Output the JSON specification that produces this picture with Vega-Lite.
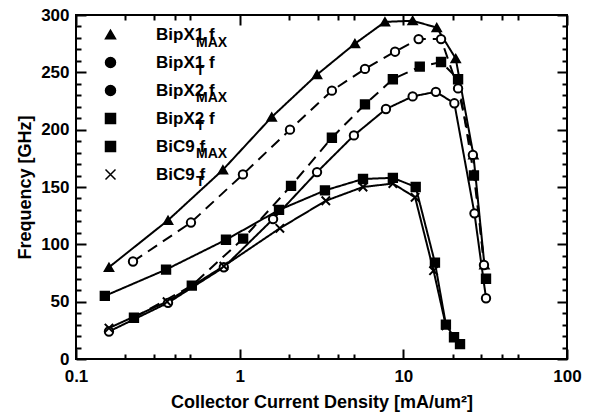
{
  "$schema": "https://vega.github.io/schema/vega-lite/v6.json",
  "width": 491,
  "height": 344,
  "autosize": "none",
  "padding": {"left": 76, "top": 15, "right": 27, "bottom": 58},
  "background": "white",
  "config": {
    "view": {"stroke": "black", "strokeWidth": 2},
    "font": "Liberation Sans",
    "axis": {
      "grid": false, "domain": false,
      "labelFont": "Liberation Sans", "labelFontSize": 17, "labelFontWeight": "bold", "labelColor": "black",
      "titleFont": "Liberation Sans", "titleFontSize": 18, "titleFontWeight": "bold", "titleColor": "black",
      "tickColor": "black", "tickWidth": 2, "labelFlush": false, "labelOverlap": false
    }
  },
  "data": {"values": [
    {"series": "BipX1 fMAX", "j": 0.159, "f": 80},
    {"series": "BipX1 fMAX", "j": 0.365, "f": 121},
    {"series": "BipX1 fMAX", "j": 0.79, "f": 165},
    {"series": "BipX1 fMAX", "j": 1.57, "f": 211},
    {"series": "BipX1 fMAX", "j": 2.97, "f": 248},
    {"series": "BipX1 fMAX", "j": 5.06, "f": 275},
    {"series": "BipX1 fMAX", "j": 7.72, "f": 294},
    {"series": "BipX1 fMAX", "j": 11.4, "f": 295},
    {"series": "BipX1 fMAX", "j": 16.0, "f": 289},
    {"series": "BipX1 fMAX", "j": 20.9, "f": 262},
    {"series": "BipX1 fMAX", "j": 26.8, "f": 178},
    {"series": "BipX1 fMAX", "j": 31.3, "f": 82},
    {"series": "BipX1 fT", "j": 0.159, "f": 24},
    {"series": "BipX1 fT", "j": 0.365, "f": 49},
    {"series": "BipX1 fT", "j": 0.80, "f": 80},
    {"series": "BipX1 fT", "j": 1.6, "f": 122},
    {"series": "BipX1 fT", "j": 2.97, "f": 163},
    {"series": "BipX1 fT", "j": 4.99, "f": 195},
    {"series": "BipX1 fT", "j": 7.83, "f": 218},
    {"series": "BipX1 fT", "j": 11.4, "f": 229},
    {"series": "BipX1 fT", "j": 15.8, "f": 233},
    {"series": "BipX1 fT", "j": 20.5, "f": 223},
    {"series": "BipX1 fT", "j": 27.2, "f": 127},
    {"series": "BipX1 fT", "j": 32.0, "f": 53},
    {"series": "BipX2 fMAX", "j": 0.223, "f": 85},
    {"series": "BipX2 fMAX", "j": 0.504, "f": 119},
    {"series": "BipX2 fMAX", "j": 1.047, "f": 161},
    {"series": "BipX2 fMAX", "j": 2.03, "f": 200},
    {"series": "BipX2 fMAX", "j": 3.66, "f": 234},
    {"series": "BipX2 fMAX", "j": 5.83, "f": 253},
    {"series": "BipX2 fMAX", "j": 8.9, "f": 268},
    {"series": "BipX2 fMAX", "j": 12.4, "f": 279},
    {"series": "BipX2 fMAX", "j": 17.0, "f": 279},
    {"series": "BipX2 fMAX", "j": 21.6, "f": 236},
    {"series": "BipX2 fMAX", "j": 26.6, "f": 178},
    {"series": "BipX2 fMAX", "j": 31.1, "f": 82},
    {"series": "BipX2 fT", "j": 0.226, "f": 36},
    {"series": "BipX2 fT", "j": 0.51, "f": 64},
    {"series": "BipX2 fT", "j": 1.05, "f": 105},
    {"series": "BipX2 fT", "j": 2.06, "f": 151},
    {"series": "BipX2 fT", "j": 3.66, "f": 193},
    {"series": "BipX2 fT", "j": 5.83, "f": 222},
    {"series": "BipX2 fT", "j": 8.63, "f": 244},
    {"series": "BipX2 fT", "j": 12.6, "f": 255},
    {"series": "BipX2 fT", "j": 17.0, "f": 259},
    {"series": "BipX2 fT", "j": 21.6, "f": 244},
    {"series": "BipX2 fT", "j": 27.0, "f": 160},
    {"series": "BipX2 fT", "j": 32.0, "f": 70},
    {"series": "BiC9 fMAX", "j": 0.150, "f": 55},
    {"series": "BiC9 fMAX", "j": 0.355, "f": 78},
    {"series": "BiC9 fMAX", "j": 0.825, "f": 104},
    {"series": "BiC9 fMAX", "j": 1.74, "f": 130},
    {"series": "BiC9 fMAX", "j": 3.32, "f": 147},
    {"series": "BiC9 fMAX", "j": 5.67, "f": 157},
    {"series": "BiC9 fMAX", "j": 8.63, "f": 158},
    {"series": "BiC9 fMAX", "j": 11.9, "f": 150},
    {"series": "BiC9 fMAX", "j": 15.6, "f": 84},
    {"series": "BiC9 fMAX", "j": 18.2, "f": 30},
    {"series": "BiC9 fMAX", "j": 20.4, "f": 19},
    {"series": "BiC9 fMAX", "j": 22.2, "f": 13},
    {"series": "BiC9 fT", "j": 0.159, "f": 27},
    {"series": "BiC9 fT", "j": 0.36, "f": 50},
    {"series": "BiC9 fT", "j": 0.80, "f": 81},
    {"series": "BiC9 fT", "j": 1.76, "f": 114},
    {"series": "BiC9 fT", "j": 3.36, "f": 138},
    {"series": "BiC9 fT", "j": 5.67, "f": 150},
    {"series": "BiC9 fT", "j": 8.63, "f": 153},
    {"series": "BiC9 fT", "j": 11.8, "f": 141},
    {"series": "BiC9 fT", "j": 15.3, "f": 77},
    {"series": "BiC9 fT", "j": 18.2, "f": 29}
  ]},
  "layer": [
    {
      "mark": {"type": "line", "strokeWidth": 2, "color": "black"},
      "encoding": {
        "x": {"field": "j", "type": "quantitative", "scale": {"type": "log", "domain": [0.1, 100]},
          "axis": {"orient": "bottom", "values": [0.1, 1, 10, 100], "format": "~g", "ticks": false, "labelPadding": 9,
            "title": "Collector Current Density [mA/um²]", "titlePadding": 9}},
        "y": {"field": "f", "type": "quantitative", "scale": {"domain": [0, 300], "nice": false},
          "axis": {"orient": "left", "values": [0, 50, 100, 150, 200, 250, 300], "ticks": false, "labelPadding": 7,
            "title": "Frequency [GHz]", "titlePadding": 6}},
        "detail": {"field": "series", "type": "nominal"},
        "strokeDash": {"field": "series", "type": "nominal",
          "scale": {"domain": ["BipX2 fMAX", "BipX2 fT", "BipX1 fMAX", "BipX1 fT", "BiC9 fMAX", "BiC9 fT"],
            "range": [[11, 7], [11, 7], [1, 0], [1, 0], [1, 0], [1, 0]]},
          "legend": null}
      }
    },
    {
      "mark": {"type": "point", "filled": true, "stroke": "black", "strokeWidth": 2, "size": 70, "opacity": 1},
      "encoding": {
        "x": {"field": "j", "type": "quantitative",
          "axis": {"orient": "bottom", "values": [0.1, 1, 10, 100], "labels": false, "tickSize": -10, "title": null}},
        "y": {"field": "f", "type": "quantitative",
          "axis": {"orient": "left", "values": [0, 50, 100, 150, 200, 250, 300], "labels": false, "tickSize": -10, "title": null}},
        "shape": {"field": "series", "type": "nominal",
          "scale": {"domain": ["BipX1 fMAX", "BipX1 fT", "BipX2 fMAX", "BipX2 fT", "BiC9 fMAX", "BiC9 fT"],
            "range": ["triangle-up", "circle", "circle", "square", "square", "M-1,-1L1,1M-1,1L1,-1"]},
          "legend": {
            "orient": "none", "legendX": 12, "legendY": 11, "title": null, "padding": 0, "rowPadding": 10,
            "labelFont": "Liberation Sans", "labelFontSize": 17, "labelFontWeight": "bold", "labelColor": "black",
            "symbolSize": 100, "symbolOffset": 14, "labelOffset": 37,
            "labelExpr": "indexof(datum.label, 'BipX1') == 0 ? 'BipX1 f' : (indexof(datum.label, 'BipX2') == 0 ? 'BipX2 f' : 'BiC9 f')",
            "encode": {
              "symbols": {"update": {
                "shape": {"signal": "['M-2.9,0L2.9,0M-2.9,-1.15L-1.85,0.75L-3.95,0.75ZM2.9,-1.15L3.95,0.75L1.85,0.75Z', 'M-2,0L2,0M-2,0A0.9,0.9 0 1,1 -3.8,0A0.9,0.9 0 1,1 -2,0ZM3.8,0A0.9,0.9 0 1,1 2,0A0.9,0.9 0 1,1 3.8,0Z', 'M-2,0L-0.6,0M0.6,0L2,0M-2,0A0.9,0.9 0 1,1 -3.8,0A0.9,0.9 0 1,1 -2,0ZM3.8,0A0.9,0.9 0 1,1 2,0A0.9,0.9 0 1,1 3.8,0Z', 'M-1.9,0L-0.6,0M0.6,0L1.9,0M-3.9,-1H-1.9V1H-3.9ZM1.9,-1H3.9V1H1.9Z', 'M-1.9,0L1.9,0M-3.9,-1H-1.9V1H-3.9ZM1.9,-1H3.9V1H1.9Z', 'M-2.9,0L2.9,0M-3.9,-1L-1.9,1M-3.9,1L-1.9,-1M1.9,-1L3.9,1M1.9,1L3.9,-1'][indexof(['BipX1 fMAX', 'BipX1 fT', 'BipX2 fMAX', 'BipX2 fT', 'BiC9 fMAX', 'BiC9 fT'], datum.value)]"},
                "fill": {"signal": "datum.value == 'BipX1 fT' || datum.value == 'BipX2 fMAX' ? 'white' : 'black'"},
                "stroke": {"value": "black"},
                "strokeWidth": {"value": 2},
                "size": {"value": 100},
                "opacity": {"value": 1}
              }},
              "labels": {"update": {"dy": {"value": -2}}}
            }
          }},
        "fill": {"field": "series", "type": "nominal",
          "scale": {"domain": ["BipX1 fT", "BipX1 fMAX", "BipX2 fMAX", "BipX2 fT", "BiC9 fMAX", "BiC9 fT"],
            "range": ["white", "black", "white", "black", "black", "black"]},
          "legend": null},
        "opacity": {"field": "series", "type": "nominal",
          "scale": {"domain": ["BiC9 fT", "BiC9 fMAX", "BipX2 fT", "BipX2 fMAX", "BipX1 fT", "BipX1 fMAX"],
            "range": [1, 1, 1, 1, 1, 1]},
          "legend": {
            "orient": "top-left", "offset": 21, "title": null, "padding": 0, "rowPadding": 13.7,
            "values": ["BipX1 fMAX", "BipX1 fT", "BipX2 fMAX", "BipX2 fT", "BiC9 fMAX", "BiC9 fT"],
            "labelFont": "Liberation Sans", "labelFontSize": 14, "labelFontWeight": "bold", "labelColor": "black",
            "symbolSize": 0, "symbolOpacity": 0, "labelOffset": 85,
            "labelExpr": "indexof(datum.label, 'MAX') >= 0 ? 'MAX' : 'T'",
            "encode": {
              "symbols": {"update": {"opacity": {"value": 0}}},
              "labels": {"update": {"dx": {"signal": "indexof(datum.value, 'BiC9') == 0 ? -8 : 0"}}}
            }
          }}
      }
    },
    {
      "mark": {"type": "point", "opacity": 0},
      "encoding": {
        "x": {"field": "j", "type": "quantitative",
          "axis": {"orient": "top", "values": [0.1, 1, 10, 100], "labels": false, "tickSize": -10, "title": null}},
        "y": {"field": "f", "type": "quantitative",
          "axis": {"orient": "right", "values": [0, 50, 100, 150, 200, 250, 300], "labels": false, "tickSize": -10, "title": null}}
      }
    },
    {
      "mark": {"type": "point", "opacity": 0},
      "encoding": {
        "x": {"field": "j", "type": "quantitative",
          "axis": {"orient": "bottom", "values": [0.2, 0.3, 0.4, 0.5, 2, 3, 4, 5, 20, 30, 40, 50], "labels": false, "tickSize": -5, "title": null}},
        "y": {"field": "f", "type": "quantitative",
          "axis": {"orient": "left", "values": [10, 20, 30, 40, 60, 70, 80, 90, 110, 120, 130, 140, 160, 170, 180, 190, 210, 220, 230, 240, 260, 270, 280, 290], "labels": false, "tickSize": -5, "title": null}}
      }
    },
    {
      "mark": {"type": "point", "opacity": 0},
      "encoding": {
        "x": {"field": "j", "type": "quantitative",
          "axis": {"orient": "top", "values": [0.2, 0.3, 0.4, 0.5, 2, 3, 4, 5, 20, 30, 40, 50], "labels": false, "tickSize": -5, "title": null}},
        "y": {"field": "f", "type": "quantitative",
          "axis": {"orient": "right", "values": [10, 20, 30, 40, 60, 70, 80, 90, 110, 120, 130, 140, 160, 170, 180, 190, 210, 220, 230, 240, 260, 270, 280, 290], "labels": false, "tickSize": -5, "title": null}}
      }
    }
  ],
  "resolve": {"axis": {"x": "independent", "y": "independent"}}
}
